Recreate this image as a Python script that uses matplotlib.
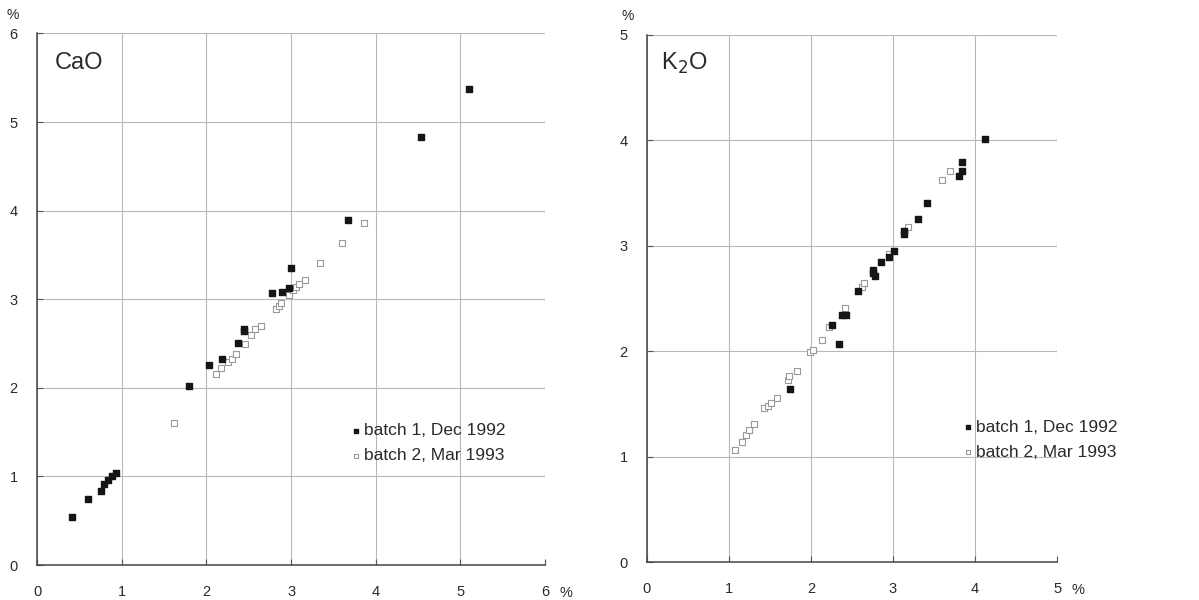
# CaO and K2O: measured vs reference, two batches
import matplotlib
matplotlib.use('Agg')
import matplotlib.pyplot as plt

plt.rcParams['font.family'] = ['Liberation Sans', 'DejaVu Sans']

# --- CaO data (batch 1 = filled, batch 2 = open)
cao_b1_x = [0.41, 0.60, 0.75, 0.79, 0.84, 0.88, 0.93, 1.79, 2.03, 2.19, 2.37,
            2.44, 2.45, 2.78, 2.89, 2.97, 3.00, 3.67, 4.54, 5.10]
cao_b1_y = [0.54, 0.74, 0.83, 0.91, 0.96, 1.01, 1.04, 2.02, 2.26, 2.32, 2.51,
            2.64, 2.66, 3.07, 3.08, 3.13, 3.35, 3.89, 4.83, 5.37]
cao_b2_x = [1.62, 2.11, 2.17, 2.25, 2.30, 2.35, 2.46, 2.53, 2.58, 2.64, 2.82,
            2.86, 2.88, 2.98, 3.02, 3.06, 3.09, 3.17, 3.34, 3.60, 3.86]
cao_b2_y = [1.60, 2.16, 2.22, 2.29, 2.33, 2.38, 2.50, 2.60, 2.66, 2.70, 2.89,
            2.92, 2.96, 3.05, 3.10, 3.14, 3.17, 3.22, 3.41, 3.64, 3.86]

# --- K2O data
k2o_b1_x = [1.74, 2.25, 2.34, 2.38, 2.43, 2.57, 2.75, 2.76, 2.78, 2.85, 2.95,
            3.01, 3.14, 3.14, 3.30, 3.42, 3.80, 3.84, 3.84, 4.12]
k2o_b1_y = [1.64, 2.25, 2.07, 2.34, 2.34, 2.57, 2.77, 2.74, 2.71, 2.85, 2.89,
            2.95, 3.11, 3.14, 3.25, 3.41, 3.66, 3.71, 3.79, 4.01]
k2o_b2_x = [1.07, 1.16, 1.21, 1.24, 1.30, 1.43, 1.47, 1.51, 1.58, 1.72, 1.73,
            1.83, 1.99, 2.02, 2.14, 2.22, 2.41, 2.62, 2.65, 2.95, 3.18, 3.60, 3.70]
k2o_b2_y = [1.06, 1.14, 1.21, 1.25, 1.31, 1.46, 1.48, 1.51, 1.56, 1.73, 1.77,
            1.81, 1.99, 2.01, 2.11, 2.23, 2.41, 2.61, 2.65, 2.92, 3.18, 3.62, 3.71]

legend_labels = ['batch 1, Dec 1992', 'batch 2, Mar 1993']
TXT = '#2a2a2a'


def panel(ax, b1x, b1y, b2x, b2y, xmax, ymax, title, leg_anchor):
    ax.scatter(b2x, b2y, marker='s', s=22, facecolor='white', edgecolor='#9a9a9a',
               linewidths=0.8, zorder=3, label=legend_labels[1])
    ax.scatter(b1x, b1y, marker='s', s=24, color='#151515', zorder=4,
               label=legend_labels[0])
    ax.set_xlim(0, xmax)
    ax.set_ylim(0, ymax)
    ax.set_xticks(range(xmax + 1))
    ax.set_yticks(range(ymax + 1))
    ax.grid(True, color='#b8b8b8', linewidth=0.8)
    ax.set_axisbelow(True)
    for s in ['top', 'right']:
        ax.spines[s].set_visible(False)
    for s in ['left', 'bottom']:
        ax.spines[s].set_color('#444444')
        ax.spines[s].set_linewidth(1.1)
    ax.tick_params(direction='in', length=4, color='#555555', labelcolor=TXT,
                   labelsize=10.5)
    ax.tick_params(axis='x', pad=14.5)
    ax.tick_params(axis='y', pad=14)
    ax.text(0.035, 0.945, title, transform=ax.transAxes, fontsize=17,
            color=TXT, va='center', ha='left')
    # unit marks: "%" above the y axis and after the last x label
    ax.text(-0.048, 1.035, '%', transform=ax.transAxes, fontsize=10,
            color=TXT, ha='center', va='center')
    ax.annotate('%', xy=(xmax, 0), xycoords='data', xytext=(15, -20),
                textcoords='offset points', fontsize=10.5, color=TXT,
                ha='center', va='center')
    h, l = ax.get_legend_handles_labels()
    leg = ax.legend(h[::-1], l[::-1], loc='upper left', bbox_to_anchor=leg_anchor,
                    frameon=False, fontsize=12.5, handletextpad=0.05,
                    handlelength=0.8, labelspacing=0.58, markerscale=0.6,
                    borderaxespad=0)
    for t in leg.get_texts():
        t.set_color(TXT)


fig = plt.figure(figsize=(11.99, 6.0), dpi=100)
ax1 = fig.add_axes([0.0309, 0.0583, 0.4237, 0.886])
ax2 = fig.add_axes([0.5396, 0.0630, 0.3420, 0.879])

panel(ax1, cao_b1_x, cao_b1_y, cao_b2_x, cao_b2_y, 6, 6, 'CaO', (0.60, 0.280))
panel(ax2, k2o_b1_x, k2o_b1_y, k2o_b2_x, k2o_b2_y, 5, 5, r'K$_2$O', (0.749, 0.284))

fig.savefig('out.png', dpi=100, facecolor='white')
